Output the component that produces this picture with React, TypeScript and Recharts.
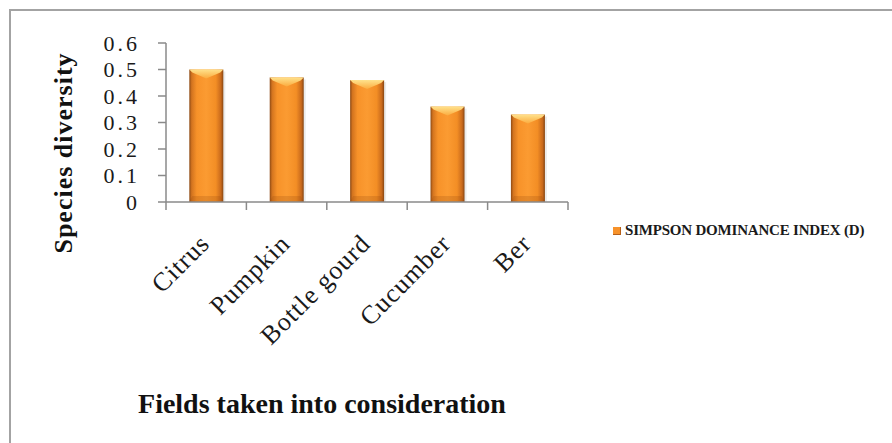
import React from 'react';
import { BarChart, Bar, XAxis, YAxis } from 'recharts';

// fields surveyed and their Simpson dominance index values
const fields = ['Citrus', 'Pumpkin', 'Bottle gourd', 'Cucumber', 'Ber'];
const simpsonIndex = [0.5, 0.47, 0.46, 0.36, 0.33];
const yTicks = [0, 0.1, 0.2, 0.3, 0.4, 0.5, 0.6];
const seriesName = 'SIMPSON DOMINANCE INDEX (D)';

const data = fields.map((field, i) => ({ field, simpson: simpsonIndex[i] }));

const SERIF = '"Liberation Serif", "Times New Roman", serif';
const AXIS_COLOR = '#8a8a8a';
const ORANGE = '#f7922a';

// bevelled orange column, Excel-style
const BevelBar = (props: any) => {
  const { x, y, width: w, height: h } = props;
  if (!h || h <= 0) return null;
  const cap = 9;
  return (
    <g>
      <rect x={x + 2} y={y + 2} width={w} height={h - 2} fill="rgba(0,0,0,0.08)" />
      <rect x={x} y={y} width={w} height={h} fill="url(#barBody)" />
      <polygon
        points={`${x},${y} ${x + w},${y} ${x + w - 3},${y + 3} ${x + w / 2},${y + cap} ${x + 3},${y + 3}`}
        fill="url(#barCap)"
      />
      <polygon
        points={`${x + 3},${y + h - 6} ${x + w - 3},${y + h - 6} ${x + w},${y + h} ${x},${y + h}`}
        fill="rgba(140,66,10,0.2)"
      />
    </g>
  );
};

// category label rotated 45deg, plus tick marks on the category boundaries
const FieldTick = (props: any) => {
  const { x, y, payload, index, visibleTicksCount } = props;
  const half = payload && payload.offset ? payload.offset : 40.25;
  const axisY = y - 8;
  const ax = x + 5;
  const ay = y + 35;
  return (
    <g>
      <line x1={x - half} y1={axisY} x2={x - half} y2={axisY + 8} stroke={AXIS_COLOR} strokeWidth={1.5} />
      {index === visibleTicksCount - 1 && (
        <line x1={x + half} y1={axisY} x2={x + half} y2={axisY + 8} stroke={AXIS_COLOR} strokeWidth={1.5} />
      )}
      <text
        x={ax}
        y={ay}
        transform={`rotate(-45, ${ax}, ${ay})`}
        textAnchor="end"
        fontFamily={SERIF}
        fontSize={26}
        letterSpacing={1}
        fill="#1a1a1a"
      >
        {payload.value}
      </text>
    </g>
  );
};

const YTitle = () => (
  <text
    x={72}
    y={153}
    transform="rotate(-90, 72, 153)"
    textAnchor="middle"
    fontFamily={SERIF}
    fontWeight="bold"
    fontSize={26}
    letterSpacing={1}
    fill="#111"
  >
    Species diversity
  </text>
);

const XTitle = () => (
  <text x={322} y={413} textAnchor="middle" fontFamily={SERIF} fontWeight="bold" fontSize={28} fill="#111">
    Fields taken into consideration
  </text>
);

export default function App() {
  return (
    <div style={{ position: 'absolute', left: 0, top: 0, width: 892, height: 443, background: '#fff', overflow: 'hidden' }}>
      <div
        style={{
          position: 'absolute',
          left: 9,
          top: 9,
          width: 900,
          height: 450,
          borderLeft: '2px solid #a3a3a3',
          borderTop: '2px solid #a3a3a3',
        }}
      />
      <BarChart
        width={892}
        height={443}
        data={data}
        margin={{ top: 43, right: 324, bottom: 0, left: 0 }}
        barCategoryGap="29%"
        style={{ position: 'absolute', left: 0, top: 0 }}
      >
        <defs>
          <linearGradient id="barBody" x1="0" y1="0" x2="1" y2="0">
            <stop offset="0%" stopColor="#8e4a14" />
            <stop offset="7%" stopColor="#d3741f" />
            <stop offset="22%" stopColor="#f79229" />
            <stop offset="50%" stopColor="#fb9b32" />
            <stop offset="78%" stopColor="#f38e25" />
            <stop offset="93%" stopColor="#c8691c" />
            <stop offset="100%" stopColor="#874612" />
          </linearGradient>
          <linearGradient id="barCap" x1="0" y1="0" x2="0" y2="1">
            <stop offset="0%" stopColor="#ffe28c" />
            <stop offset="100%" stopColor="#fbab3e" />
          </linearGradient>
        </defs>
        <XAxis
          dataKey="field"
          height={241}
          interval={0}
          tickLine={false}
          tickSize={8}
          tickMargin={0}
          axisLine={{ stroke: AXIS_COLOR, strokeWidth: 1.5 }}
          tick={<FieldTick />}
          label={<XTitle />}
        />
        <YAxis
          width={166}
          domain={[0, 0.6]}
          ticks={yTicks}
          interval={0}
          tickSize={8}
          tickMargin={18}
          tickLine={{ stroke: AXIS_COLOR, strokeWidth: 1.5 }}
          axisLine={{ stroke: AXIS_COLOR, strokeWidth: 1.5 }}
          tick={{ fontFamily: SERIF, fontSize: 22, letterSpacing: 3, fill: '#1a1a1a' }}
          label={<YTitle />}
        />
        <Bar dataKey="simpson" name={seriesName} fill={ORANGE} shape={<BevelBar />} isAnimationActive={false} />
      </BarChart>
      <div
        style={{
          position: 'absolute',
          left: 613,
          top: 222,
          display: 'flex',
          alignItems: 'center',
          fontFamily: SERIF,
          fontSize: 15,
          fontWeight: 'bold',
          color: '#1a1a1a',
          whiteSpace: 'nowrap',
        }}
      >
        <span style={{ display: 'inline-block', width: 8, height: 8, background: ORANGE, marginRight: 4, boxShadow: 'inset -1px -1px 0 #b5601a' }} />
        <span style={{ letterSpacing: -0.2 }}>{seriesName}</span>
      </div>
    </div>
  );
}
